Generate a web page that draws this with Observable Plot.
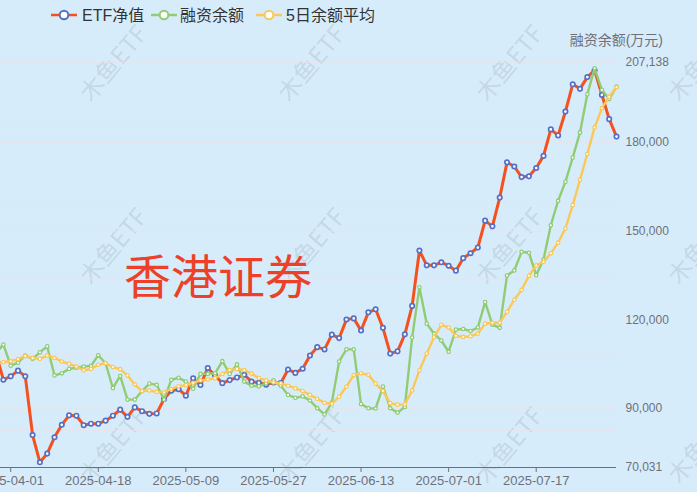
<!DOCTYPE html>
<html><head><meta charset="utf-8">
<script src="https://cdn.jsdelivr.net/npm/d3@7"></script>
<script src="https://cdn.jsdelivr.net/npm/@observablehq/plot@0.6"></script>
<style>
html,body{margin:0;padding:0;background:#d7ecfb;}
#wrap{position:relative;width:697px;height:492px;overflow:hidden;background:#d7ecfb;}
#wm,#chart,#over{position:absolute;left:0;top:0;width:697px;height:492px;}
.wm{position:absolute;white-space:nowrap;font-family:"Noto Sans CJK SC","Liberation Sans",sans-serif;font-size:24px;color:rgba(120,130,140,0.2);transform:translate(-50%,-50%) rotate(-50deg);}
#big{position:absolute;left:124px;top:246px;font-family:"Noto Sans CJK SC",sans-serif;font-size:47px;line-height:56px;color:#ec4128;white-space:nowrap;}
</style></head>
<body><div id="wrap"><div id="wm"></div><div id="chart"></div><svg id="over" width="697" height="492"></svg><div id="big">香港证券</div></div>
<script>
const dates = ["2025-03-28","2025-03-31","2025-04-01","2025-04-02","2025-04-03","2025-04-07","2025-04-08","2025-04-09","2025-04-10","2025-04-11","2025-04-14","2025-04-15","2025-04-16","2025-04-17","2025-04-18","2025-04-21","2025-04-22","2025-04-23","2025-04-24","2025-04-25","2025-04-28","2025-04-29","2025-04-30","2025-05-06","2025-05-07","2025-05-08","2025-05-09","2025-05-12","2025-05-13","2025-05-14","2025-05-15","2025-05-16","2025-05-19","2025-05-20","2025-05-21","2025-05-22","2025-05-23","2025-05-26","2025-05-27","2025-05-28","2025-05-29","2025-05-30","2025-06-03","2025-06-04","2025-06-05","2025-06-06","2025-06-09","2025-06-10","2025-06-11","2025-06-12","2025-06-13","2025-06-16","2025-06-17","2025-06-18","2025-06-19","2025-06-20","2025-06-23","2025-06-24","2025-06-25","2025-06-26","2025-06-27","2025-06-30","2025-07-01","2025-07-02","2025-07-03","2025-07-04","2025-07-07","2025-07-08","2025-07-09","2025-07-10","2025-07-11","2025-07-14","2025-07-15","2025-07-16","2025-07-17","2025-07-18","2025-07-21","2025-07-22","2025-07-23","2025-07-24","2025-07-25","2025-07-28","2025-07-29","2025-07-30","2025-07-31","2025-08-01"];
const etfNav = [1.801,1.734,1.743,1.758,1.743,1.588,1.516,1.539,1.582,1.615,
1.640,1.639,1.614,1.618,1.618,1.626,1.639,1.655,1.636,1.661,
1.651,1.644,1.645,1.683,1.705,1.709,1.692,1.738,1.720,1.765,
1.745,1.725,1.733,1.740,1.747,1.729,1.726,1.721,1.727,1.725,
1.761,1.752,1.763,1.798,1.820,1.814,1.853,1.844,1.893,1.896,
1.864,1.912,1.920,1.871,1.803,1.809,1.854,1.929,2.075,2.036,
2.036,2.044,2.035,2.022,2.055,2.068,2.083,2.154,2.139,2.215,
2.308,2.297,2.269,2.271,2.293,2.325,2.395,2.379,2.442,2.514,
2.502,2.533,2.551,2.486,2.422,2.376];
const marginBalance = [108900,111600,104500,105500,107900,106800,109000,111000,101200,101900,
103400,103800,104200,104400,108000,105300,96900,101000,93000,93000,
95900,98400,98000,93000,99700,100400,99100,96700,101700,101700,
101900,106000,101700,104900,99100,97700,97500,98500,99500,97700,
94600,93600,94100,92700,90100,88000,92000,105900,110000,110000,
91500,90100,90000,97400,90100,88600,90500,114000,131000,118700,
115300,113000,109200,116700,116900,116200,117400,126000,118400,117300,
135000,136700,143000,142700,135100,140400,152000,160300,166700,174900,
183400,196300,205100,197800,194700,198900];
const marginMA5 = [105600,105700,106000,106700,107700,107100,106800,107900,107100,105900,
105100,104200,102900,103400,104800,105300,104000,103300,101200,98100,
95900,96100,95600,95500,96600,97500,97900,98700,99500,99800,
100200,101700,103000,103400,103000,101800,100300,99500,98800,98500,
97700,96800,95900,94600,93300,91900,91600,94000,97400,101300,
101900,101400,98400,95900,91800,91300,91400,96100,102900,108600,
114100,118300,117400,114600,114200,114400,115300,118700,119000,119000,
122700,126800,130100,134900,138400,139600,142500,146100,150900,158800,
167400,176100,185100,191600,195500,198700];
const rightTicks = [70031, 90000, 120000, 150000, 180000, 207138];
const leftTicks = [1.6, 1.8, 2.0, 2.2, 2.4];
const leftRange = [1.5023, 2.5721];
const xLabelDates = ["2025-04-01","2025-04-18","2025-05-09","2025-05-27","2025-06-13","2025-07-01","2025-07-17"];
const seriesNames = ["ETF净值","融资余额","5日余额平均"];
const axisTitle = "融资余额(万元)";
const bigTitle = "香港证券";
const watermarkText = "木鱼ETF";

const base = dates.indexOf("2025-04-01");
const rows = dates.map((d,k)=>({i:k-base, date:d, etf:etfNav[k], bal:marginBalance[k], ma:marginMA5[k]}));
const R0 = rightTicks[0], R1 = rightTicks[rightTicks.length-1];
const toRight = v => R0 + (v-leftRange[0])/(leftRange[1]-leftRange[0])*(R1-R0);

const RED = "#f4511e", BLUE = "#5470c6", GREEN = "#91cc75", YEL = "#fac858";

const plot = Plot.plot({
  width: 697, height: 492,
  marginLeft: 0, marginRight: 81, marginTop: 61.8, marginBottom: 25,
  style: {background: "transparent", color: "#6e7079", fontFamily: "'Liberation Sans', Arial, sans-serif", overflow: "hidden", maxWidth: "none"},
  x: {type: "linear", domain: [-1.397, 83]},
  y: {domain: [R0, R1]},
  marks: [
    Plot.ruleY(leftTicks.map(toRight), {stroke: "#e3e4ee", strokeWidth: 1}),
    Plot.ruleY(rightTicks.slice(1), {stroke: "#e3e4ee", strokeWidth: 1}),
    Plot.ruleY([R0], {stroke: "#6e7079", strokeWidth: 1}),
    Plot.axisX({ticks: xLabelDates.map(d=>dates.indexOf(d)-base), tickFormat: i => dates[i+base], tickSize: 5, tickPadding: 3, fontSize: 13, label: null}),
    Plot.axisY({anchor: "right", ticks: rightTicks, tickFormat: d3.format(","), tickSize: 0, tickPadding: 9, fontSize: 12, label: null}),
    Plot.line(rows, {x: "i", y: d => toRight(d.etf), stroke: RED, strokeWidth: 3}),
    Plot.dot(rows, {x: "i", y: d => toRight(d.etf), r: 2.2, fill: "white", stroke: BLUE, strokeWidth: 1.7}),
    Plot.line(rows, {x: "i", y: "bal", stroke: GREEN, strokeWidth: 2.4}),
    Plot.dot(rows, {x: "i", y: "bal", r: 1.7, fill: "white", stroke: GREEN, strokeWidth: 1.3}),
    Plot.line(rows, {x: "i", y: "ma", stroke: YEL, strokeWidth: 2.4}),
    Plot.dot(rows, {x: "i", y: "ma", r: 1.7, fill: "white", stroke: YEL, strokeWidth: 1.3})
  ]
});
document.getElementById("chart").appendChild(plot);

// watermark
const wm = document.getElementById("wm");
const wmCols = [112, 310, 508, 700];
const wmRows = [62, 245, 444];
wmCols.forEach(x => wmRows.forEach(y => {
  const d = document.createElement("div");
  d.className = "wm"; d.textContent = watermarkText;
  d.style.left = x + "px"; d.style.top = y + "px";
  wm.appendChild(d);
}));
document.getElementById("big").textContent = bigTitle;

// legend + axis title
const over = d3.select("#over");
const leg = [
  {x: 51, line: RED, dot: BLUE, tx: 83},
  {x: 151, line: GREEN, dot: GREEN, tx: 181},
  {x: 256, line: YEL, dot: YEL, tx: 287}
];
leg.forEach((l, k) => {
  over.append("line").attr("x1", l.x).attr("x2", l.x + 26).attr("y1", 15).attr("y2", 15)
    .attr("stroke", l.line).attr("stroke-width", 2.5);
  over.append("circle").attr("cx", l.x + 13).attr("cy", 15).attr("r", 4.3)
    .attr("fill", "white").attr("stroke", l.dot).attr("stroke-width", 2);
  over.append("text").attr("x", l.tx - 1).attr("y", 15).attr("dominant-baseline", "central")
    .attr("font-size", 16).attr("fill", "#333")
    .attr("font-family", "'Liberation Sans','Noto Sans CJK SC',sans-serif").text(seriesNames[k]);
});
over.append("text").attr("x", 663).attr("y", 40).attr("text-anchor", "end").attr("dominant-baseline", "central")
  .attr("font-size", 14).attr("fill", "#6e7079")
  .attr("font-family", "'Liberation Sans','Noto Sans CJK SC',sans-serif").text(axisTitle);
</script>
</body></html>
